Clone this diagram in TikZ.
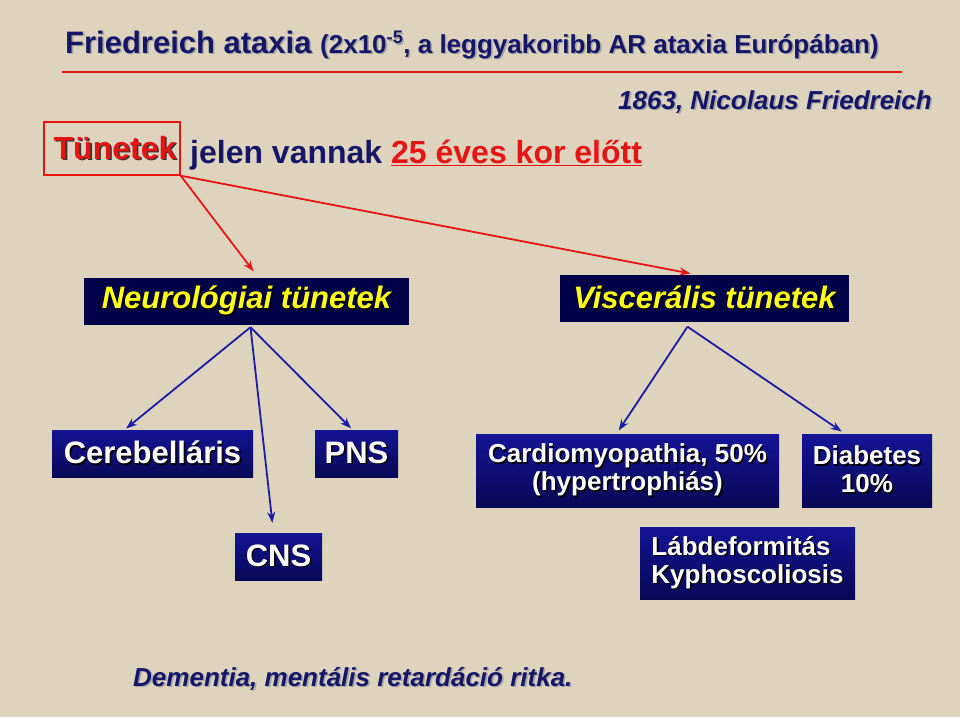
\documentclass[tikz,border=0pt]{standalone}
\usepackage{fontspec}
\setmainfont{Liberation Sans}
\usetikzlibrary{arrows.meta}

\definecolor{bgbeige}{RGB}{222,212,190}
\definecolor{navytext}{RGB}{22,22,104}
\definecolor{redtext}{RGB}{230,20,20}
\definecolor{boxnavy}{RGB}{2,2,72}
\definecolor{boxtop}{RGB}{20,20,150}
\definecolor{boxmid}{RGB}{38,38,196}
\definecolor{boxbot}{RGB}{8,8,86}
\definecolor{arrowblue}{RGB}{28,28,165}
\definecolor{yellowtext}{RGB}{255,255,20}

% text with a small drop shadow
\newcommand{\shtxt}[2]{\makebox[0pt][l]{\hspace{1.6pt}\raisebox{-1.6pt}{\color{#1}#2}}#2}

\tikzset{
  darkbox/.style={fill=boxnavy, inner sep=0pt, minimum height=47pt,
    text=yellowtext, font=\fontsize{31pt}{31pt}\selectfont\bfseries\itshape},
  bluebox/.style={top color=boxtop, middle color=boxmid, bottom color=boxbot,
    inner sep=0pt, text=white, align=center},
  bigtext/.style={font=\fontsize{31pt}{31pt}\selectfont\bfseries, minimum height=47pt},
  smalltext/.style={font=\fontsize{26pt}{28pt}\selectfont\bfseries, minimum height=73pt},
  redarrow/.style={->, redtext, line width=1.8pt},
  bluearrow/.style={->, arrowblue, line width=1.8pt}
}

\begin{document}
\begin{tikzpicture}[x=1pt, y=-1pt, >={Stealth[length=11pt,width=8pt]}]
  \fill[bgbeige] (0,0) rectangle (960,717);
  \useasboundingbox (0,0) rectangle (960,717);

  % title and red rule
  \node[anchor=base west, inner sep=0pt, text=navytext] (title) at (65,53)
    {\fontsize{31pt}{31pt}\selectfont\bfseries\shtxt{gray!70}{Friedreich ataxia}
     \fontsize{26pt}{26pt}\selectfont\shtxt{gray!70}{(2x10\textsuperscript{-5}, a leggyakoribb AR ataxia Európában)}};
  \coordinate (ruleL) at (62,72);
  \coordinate (ruleR) at (902,72);
  \draw[redtext, line width=1.6pt] (ruleL) -- (ruleR);

  \node[anchor=base east, inner sep=0pt, text=navytext] (year) at (932,109)
    {\fontsize{26pt}{26pt}\selectfont\bfseries\itshape\shtxt{gray!70}{1863, Nicolaus Friedreich}};

  % symptoms line
  \node[draw=redtext, line width=1.4pt, minimum width=136pt, minimum height=53pt,
    inner sep=0pt, text=redtext] (tun) at (112,148.5)
    {\hspace{6pt}\fontsize{32pt}{32pt}\selectfont\bfseries\shtxt{black!80}{Tünetek}};
  \node[anchor=base west, inner sep=0pt, text=navytext] (before) at (190,163)
    {\fontsize{32pt}{32pt}\selectfont\bfseries jelen vannak};
  \node[anchor=base west, inner sep=0pt, text=redtext] (age) at (391,163)
    {\fontsize{32pt}{32pt}\selectfont\bfseries\underline{25 éves kor előtt}};

  % two groups
  \node[darkbox, minimum width=325pt] (neuro) at (246.5,301.5) {\shtxt{black}{Neurológiai tünetek}};
  \node[darkbox, minimum width=289pt] (visc) at (704.5,298) {\shtxt{black}{Viscerális tünetek}};

  \draw[redarrow, shorten >=8pt] (tun.south east) -- ([xshift=12pt]neuro.north);
  \draw[redarrow, shorten >=4pt] (tun.south east) -- ([xshift=-10pt]visc.north);

  % neurological
  \node[bluebox, bigtext, minimum width=201pt] (cereb) at (152.5,453.5) {\shtxt{black}{Cerebelláris}};
  \node[bluebox, bigtext, minimum width=83pt] (pns) at (356.5,453.5) {\shtxt{black}{PNS}};
  \node[bluebox, bigtext, minimum width=87pt] (cns) at (278.5,556.5) {\shtxt{black}{CNS}};

  \draw[bluearrow, shorten >=2pt] ([xshift=4pt,yshift=-2pt]neuro.south) -- ([xshift=-28pt]cereb.north);
  \draw[bluearrow, shorten >=2pt] ([xshift=4pt,yshift=-2pt]neuro.south) -- ([xshift=-4pt]pns.north);
  \draw[bluearrow, shorten >=10pt] ([xshift=4pt,yshift=-2pt]neuro.south) -- ([xshift=-5pt]cns.north);

  % visceral
  \node[bluebox, smalltext, minimum width=303pt] (cardio) at (627.5,470.5)
    {\shtxt{black}{Cardiomyopathia, 50\%}\\\shtxt{black}{(hypertrophiás)}};
  \node[bluebox, smalltext, minimum width=130pt] (diab) at (867,470.5)
    {\shtxt{black}{Diabetes}\\\shtxt{black}{10\%}};
  \node[bluebox, smalltext, minimum width=215pt, minimum height=72pt, align=left] (foot) at (747.5,563)
    {\shtxt{black}{Lábdeformitás}\\\shtxt{black}{Kyphoscoliosis}};

  \draw[bluearrow, shorten >=4pt] ([xshift=-17pt,yshift=-5pt]visc.south) -- ([xshift=-11pt]cardio.north);
  \draw[bluearrow, shorten >=4pt] ([xshift=-17pt,yshift=-5pt]visc.south) -- ([xshift=-22pt]diab.north);

  % remark
  \node[anchor=base west, inner sep=0pt, text=navytext] (note) at (133,686)
    {\fontsize{26pt}{26pt}\selectfont\bfseries\itshape\shtxt{gray!70}{Dementia, mentális retardáció ritka.}};
\end{tikzpicture}
\end{document}
